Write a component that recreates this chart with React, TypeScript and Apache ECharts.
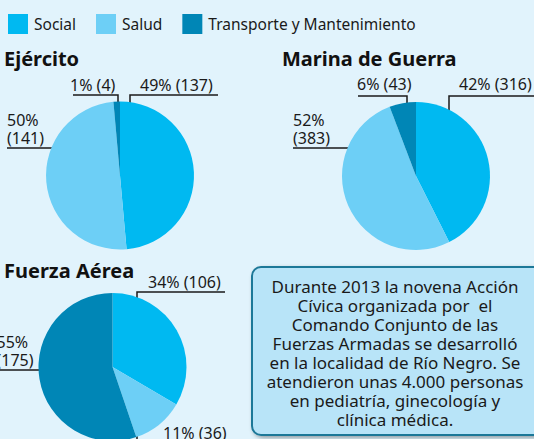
import React, { useEffect, useRef } from "react";
import * as echarts from "echarts";

const categories = ["Social", "Salud", "Transporte y Mantenimiento"];
const ejercitoValues = [137, 141, 4];
const marinaValues = [316, 383, 43];
const aereaValues = [106, 36, 175];
const panelTitles = ["Ejército", "Marina de Guerra", "Fuerza Aérea"];
const noteText = [
  "Durante 2013 la novena Acción",
  "Cívica organizada por  el",
  "Comando Conjunto de las",
  "Fuerzas Armadas se desarrolló",
  "en la localidad de Río Negro. Se",
  "atendieron unas 4.000 personas",
  "en pediatría, ginecología y",
  "clínica médica.",
];

const colors = ["#00B9F1", "#6DCFF6", "#0086B6"];
const FONT = "'Noto Sans', sans-serif";

// layout (pixels): pie centers, radius, label placements relative to the center
const centers: [number, number][] = [
  [120, 175.5],
  [416, 176],
  [112.5, 367],
];
const radius = 74;
type LabelPlace = { tx: number; ty: number; two: boolean; pts: [number, number][] };
const labelPlaces: LabelPlace[][] = [
  [
    { tx: 20, ty: -90.5, two: false, pts: [[10, -43.5], [10, -80.5], [98, -80.5]] },
    { tx: -113, ty: -46.5, two: true, pts: [[-33, -11.5], [-33, -27.5], [-113, -27.5]] },
    { tx: -50, ty: -90.5, two: false, pts: [[-2, -63.5], [-2, -80.5], [-47, -80.5]] },
  ],
  [
    { tx: 43, ty: -92, two: false, pts: [[33, -44], [33, -80], [120, -80]] },
    { tx: -123, ty: -47, two: true, pts: [[-44, -12], [-44, -28], [-123, -28]] },
    { tx: -59, ty: -92, two: false, pts: [[-9, -64], [-9, -80], [-58, -80]] },
  ],
  [
    { tx: 35.5, ty: -85, two: false, pts: [[24.5, -38], [24.5, -75], [112.5, -75]] },
    { tx: 50.5, ty: 66, two: false, pts: [[24.5, 45], [24.5, 77], [120, 77]] },
    { tx: -116, ty: -16.5, two: true, pts: [[-34.5, 20], [-34.5, 3], [-115, 3]] },
  ],
];

const seriesValues = [ejercitoValues, marinaValues, aereaValues];

export default function App() {
  const ref = useRef<HTMLDivElement>(null);
  useEffect(() => {
    document.body.style.margin = "0";
    const chart = echarts.init(ref.current!, null, { renderer: "svg" });
    const series = seriesValues.map((vals, si) => ({
      type: "pie",
      name: panelTitles[si],
      center: centers[si],
      radius: radius,
      startAngle: 90,
      clockwise: true,
      percentPrecision: 0,
      avoidLabelOverlap: false,
      silent: true,
      data: vals.map((v, i) => ({
        name: categories[i],
        value: v,
        itemStyle: { color: colors[i] },
        label: {
          formatter: labelPlaces[si][i].two ? "{d}%\n({c})" : "{d}% ({c})",
        },
      })),
      label: {
        show: true,
        position: "outside",
        color: "#1a1a1a",
        fontSize: 16,
        fontFamily: FONT,
        lineHeight: 18,
      },
      labelLine: { show: true, lineStyle: { color: "#1a1a1a", width: 1.5 } },
      labelLayout: (params: any) => {
        const p = labelPlaces[params.seriesIndex][params.dataIndex];
        const [cx, cy] = centers[params.seriesIndex];
        return {
          x: cx + p.tx,
          y: cy + p.ty,
          align: "left",
          verticalAlign: "middle",
          labelLinePoints: p.pts.map(([dx, dy]) => [cx + dx, cy + dy]),
        };
      },
    }));

    chart.setOption({
      animation: false,
      backgroundColor: "#E1F3FC",
      color: colors,
      legend: {
        left: 8,
        top: 14,
        padding: 0,
        itemWidth: 20,
        itemHeight: 20,
        itemGap: 20,
        icon: "rect",
        selectedMode: false,
        data: categories,
        textStyle: { fontSize: 15.5, fontFamily: FONT, color: "#1a1a1a", padding: [0, 0, 0, 1] },
      },
      title: [
        { text: panelTitles[0], left: 4, top: 48 },
        { text: panelTitles[1], left: 282, top: 48 },
        { text: panelTitles[2], left: 4, top: 260 },
      ].map((t) => ({
        ...t,
        padding: 0,
        textStyle: { fontSize: 20, fontWeight: "bold", fontFamily: FONT, color: "#111" },
      })),
      graphic: [
        {
          type: "rect",
          shape: { x: 252, y: 267, width: 300, height: 168, r: 9 },
          style: {
            fill: "#B8E4F8",
            stroke: "#1F7898",
            lineWidth: 2,
            shadowBlur: 4,
            shadowOffsetX: 2,
            shadowOffsetY: 2,
            shadowColor: "rgba(0,0,0,0.35)",
          },
        },
        {
          type: "text",
          x: 395,
          y: 353,
          style: {
            text: noteText.join("\n"),
            fontSize: 17,
            fontFamily: FONT,
            fill: "#1a1a1a",
            align: "center",
            verticalAlign: "middle",
            lineHeight: 19,
          },
        },
      ],
      series,
    });
    return () => chart.dispose();
  }, []);
  return <div ref={ref} style={{ width: 534, height: 439 }} />;
}
